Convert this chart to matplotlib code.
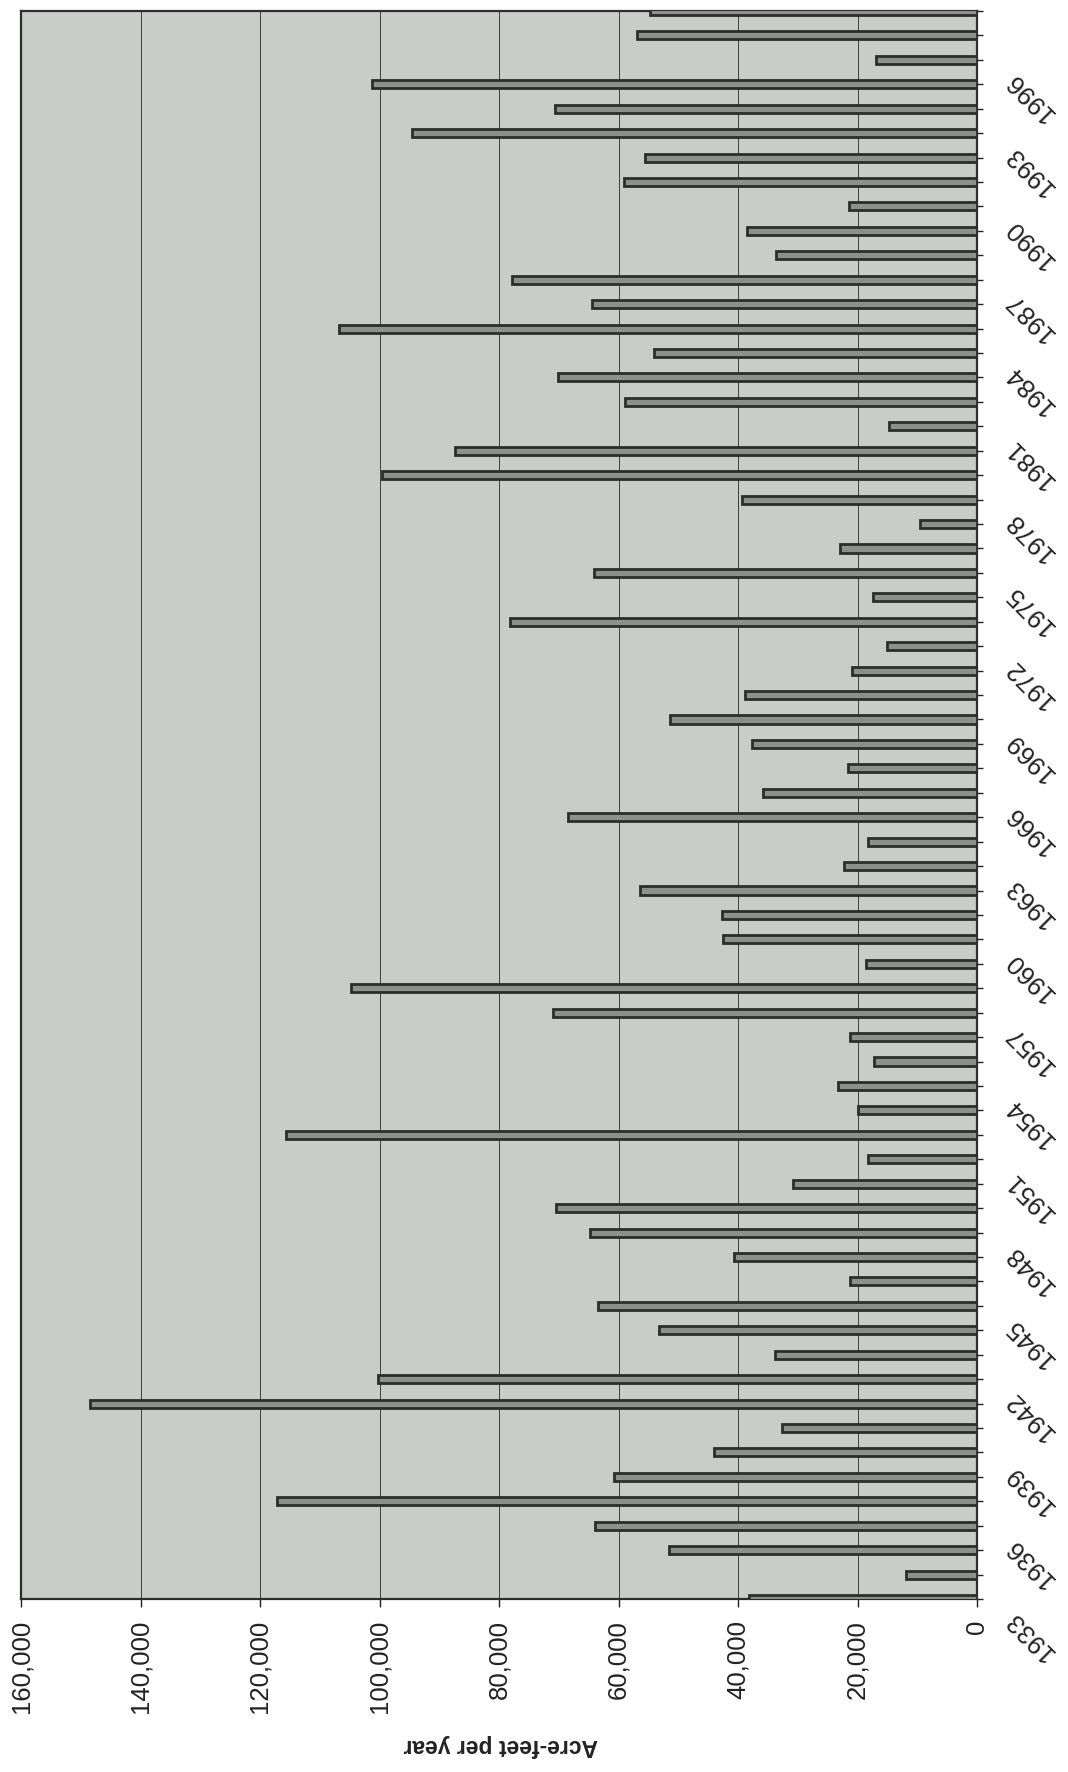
import numpy as np
import matplotlib.pyplot as plt
import matplotlib.transforms as mtransforms
from matplotlib.ticker import FuncFormatter

plt.rcParams['font.family'] = ['Liberation Sans', 'DejaVu Sans']

years = list(range(1933, 1999))
acre_feet = [38200, 11900, 51600, 64000, 117200, 60800, 44000, 32600, 148400, 100300,  # 1933-1942
             33800, 53200, 63500, 21200, 40600, 64800, 70500, 30800, 18200, 115600,     # 1943-1952
             20000, 23200, 17300, 21300, 70900, 104800, 18500, 42500, 42600, 56400,     # 1953-1962
             22300, 18200, 68500, 35800, 21600, 37700, 51400, 38800, 21000, 15100,     # 1963-1972
             78200, 17400, 64100, 22900, 9500, 39300, 99600, 87300, 14700, 58900,      # 1973-1982
             70100, 54000, 106800, 64400, 77900, 33700, 38500, 21500, 59000, 55500,    # 1983-1992
             94500, 70600, 101200, 16900, 56900, 54700]                                # 1993-1998
label_years = list(range(1933, 1999, 3))
value_ticks = list(range(0, 160001, 20000))
axis_label = "Acre-feet per year"

fig = plt.figure(figsize=(10.68, 17.72), dpi=100)
ax = fig.add_axes([21 / 1068, 1 - 1599 / 1772, (977 - 21) / 1068, (1599 - 11) / 1772])
ax.set_facecolor('#c8cdca')

ax.barh(years, acre_feet, height=0.33, color='#8d918e', edgecolor='#2b2f2c', linewidth=2, zorder=3)

# values run right to left, years bottom to top (chart is a rotated scan)
ax.set_xlim(160000, 0)
ax.set_ylim(1933, 1998)

ax.set_xticks(value_ticks)
ax.xaxis.set_major_formatter(FuncFormatter(lambda v, p: f"{int(v):,}"))
ax.tick_params(axis='x', direction='out', length=6, width=1, pad=9, labelsize=18.5,
               labelrotation=90, colors='#222222')
ax.grid(axis='x', color='#3c403d', linewidth=0.7, zorder=1)
ax.set_axisbelow(True)

ax.yaxis.tick_right()
ax.set_yticks(years, minor=True)
ax.set_yticks(label_years, labels=[str(y) for y in label_years])
ax.tick_params(axis='y', which='both', direction='out', length=4, width=1, colors='#222222')
ax.tick_params(axis='y', which='major', pad=34, labelsize=18.5)
offset = mtransforms.ScaledTranslation(0, -0.37, fig.dpi_scale_trans)
for lab in ax.get_yticklabels():
    lab.set_rotation(135)
    lab.set_rotation_mode('anchor')
    lab.set_ha('center')
    lab.set_va('center')
    lab.set_transform(lab.get_transform() + offset)

for s in ax.spines.values():
    s.set_color('#2b2f2c')
    s.set_linewidth(1.6)

fig.text(501 / 1068, 1 - 1746 / 1772, axis_label, rotation=180, ha='center', va='center',
         fontsize=16.5, fontweight='bold', color='#222222')

fig.savefig('out.png', dpi=100, facecolor='white')
